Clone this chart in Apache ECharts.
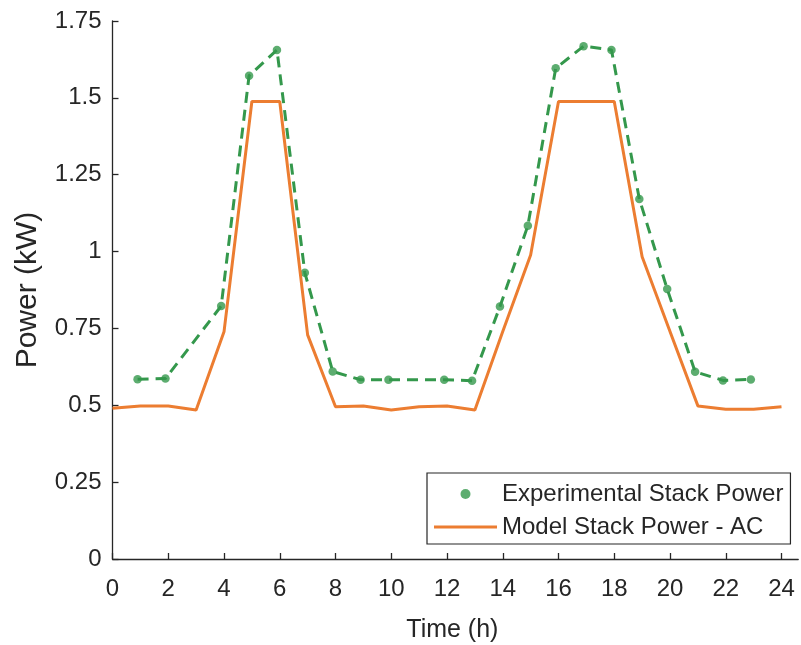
<!DOCTYPE html>
<html>
<head>
<meta charset="utf-8">
<title>Stack Power</title>
<script src="https://cdn.jsdelivr.net/npm/echarts@6/dist/echarts.min.js"></script>
<style>
  html, body { margin: 0; padding: 0; background: #fff; }
  #chart { width: 801px; height: 645px; }
</style>
</head>
<body>
<div id="chart"></div>
<script>
// Measured stack power (kW), sampled just before each hour
const expHours = [0.9, 1.9, 3.9, 4.9, 5.9, 6.9, 7.9, 8.9, 9.9, 11.9, 12.9,
                  13.9, 14.9, 15.9, 16.9, 17.9, 18.9, 19.9, 20.9, 21.9, 22.9];
const expPower = [0.585, 0.587, 0.823, 1.572, 1.656, 0.931, 0.61, 0.583, 0.583, 0.583, 0.58,
                  0.821, 1.084, 1.596, 1.668, 1.656, 1.171, 0.878, 0.609, 0.581, 0.584];

// Model AC stack power (kW), hourly
const modelHours = [0, 1, 2, 3, 4, 5, 6, 7, 8, 9, 10, 11, 12,
                    13, 14, 15, 16, 17, 18, 19, 20, 21, 22, 23, 24];
const modelPower = [0.49, 0.498, 0.498, 0.485, 0.739, 1.488, 1.488, 0.729, 0.495, 0.498, 0.485, 0.495, 0.498,
                    0.485, 0.74, 0.989, 1.488, 1.488, 1.488, 0.983, 0.74, 0.498, 0.487, 0.487, 0.495];

// Axis ticks
const xTicks = [0, 2, 4, 6, 8, 10, 12, 14, 16, 18, 20, 22, 24];
const yTicks = ['0', '0.25', '0.5', '0.75', '1', '1.25', '1.5', '1.75'];

const names = ['Experimental Stack Power', 'Model Stack Power - AC'];
const green = '#34984c';
const orange = '#ec7d31';
const axisColor = '#262626';
const font = 'Liberation Sans, Arial, Helvetica, sans-serif';

const zip = (xs, ys) => xs.map((x, i) => [x, ys[i]]);

const chart = echarts.init(document.getElementById('chart'), null, { renderer: 'canvas' });

chart.setOption({
  animation: false,
  backgroundColor: '#fff',
  textStyle: { fontFamily: font },
  grid: {
    left: 112.5, top: 21, width: 24.6 * 27.875, height: 538,
    containLabel: false, outerBoundsMode: 'none'
  },
  xAxis: {
    type: 'value',
    min: 0, max: 24.6, interval: 2,
    name: 'Time (h)', nameLocation: 'middle', nameGap: 59,
    nameTextStyle: { fontSize: 25, color: axisColor, fontFamily: font, padding: [0, 6, 0, 0] },
    axisLine: { show: true, onZero: false, lineStyle: { color: axisColor, width: 1.3 } },
    axisTick: { show: true, inside: true, length: 6, lineStyle: { color: axisColor, width: 1.3 } },
    axisLabel: {
      fontSize: 24, color: axisColor, margin: 18, fontFamily: font,
      showMaxLabel: false,
      formatter: v => (xTicks.indexOf(v) >= 0 ? String(v) : '')
    },
    splitLine: { show: false }
  },
  yAxis: {
    type: 'value',
    min: 0, max: 1.75, interval: 0.25,
    name: 'Power (kW)', nameLocation: 'middle', nameGap: 70, nameRotate: 90,
    nameTextStyle: { fontSize: 30, color: axisColor, fontFamily: font },
    axisLine: { show: true, lineStyle: { color: axisColor, width: 1.3 } },
    axisTick: { show: true, inside: true, length: 6, lineStyle: { color: axisColor, width: 1.3 } },
    axisLabel: {
      fontSize: 24, color: axisColor, margin: 11, fontFamily: font,
      formatter: v => yTicks[Math.round(v / 0.25)] ?? ''
    },
    splitLine: { show: false }
  },
  legend: {
    orient: 'vertical',
    left: 427, top: 473,
    backgroundColor: '#fff',
    borderColor: axisColor, borderWidth: 1.2,
    padding: [9, 7, 5, 7],
    itemWidth: 63, itemHeight: 10, itemGap: 9,
    symbolKeepAspect: true,
    textStyle: { fontSize: 24, lineHeight: 22, color: axisColor, fontFamily: font },
    data: [
      { name: names[0], icon: 'circle' },
      { name: names[1], icon: 'path://M0,0H63V3H0Z' }
    ]
  },
  series: [
    {
      name: 'expLine',
      type: 'line',
      data: zip(expHours, expPower),
      symbol: 'none',
      lineStyle: { color: green, width: 3, type: [11, 7] },
      z: 2
    },
    {
      name: names[0],
      type: 'scatter',
      data: zip(expHours, expPower),
      symbol: 'circle', symbolSize: 8.5,
      itemStyle: { color: green },
      z: 3
    },
    {
      name: names[1],
      type: 'line',
      data: zip(modelHours, modelPower),
      symbol: 'none',
      lineStyle: { color: orange, width: 3 },
      itemStyle: { color: orange },
      z: 4
    }
  ]
});
</script>
</body>
</html>
